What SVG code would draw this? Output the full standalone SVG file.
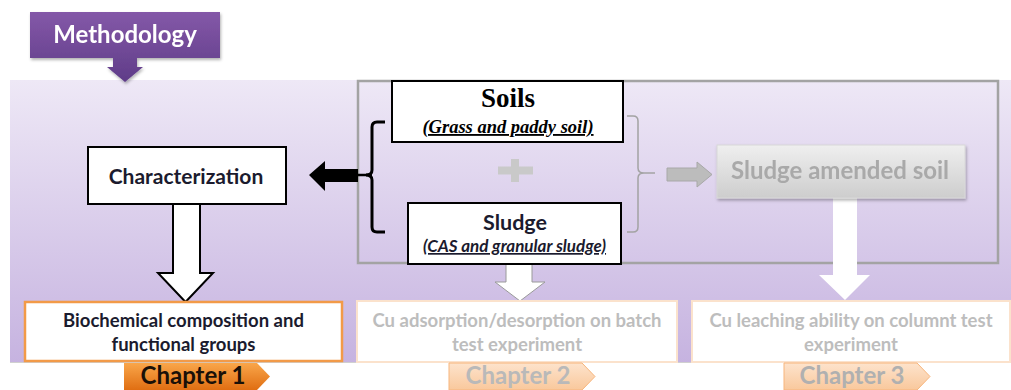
<svg xmlns="http://www.w3.org/2000/svg" width="1011" height="390" viewBox="0 0 1011 390">
<defs>
<linearGradient id="bg" x1="0" y1="0" x2="0" y2="1"><stop offset="0" stop-color="#eee8f6"/><stop offset="1" stop-color="#c6b3e0"/></linearGradient>
<linearGradient id="purple" x1="0" y1="0" x2="0" y2="1"><stop offset="0" stop-color="#8458a8"/><stop offset="1" stop-color="#5f3c88"/></linearGradient>
<linearGradient id="grey" x1="0" y1="0" x2="0" y2="1"><stop offset="0" stop-color="#efefef"/><stop offset="1" stop-color="#cdcdcd"/></linearGradient>
<linearGradient id="orange" x1="0" y1="0" x2="0" y2="1"><stop offset="0" stop-color="#f9a64a"/><stop offset="1" stop-color="#e06e12"/></linearGradient>
<linearGradient id="paleorange" x1="0" y1="0" x2="0" y2="1"><stop offset="0" stop-color="#fde3cc"/><stop offset="1" stop-color="#f9c89c"/></linearGradient>
<filter id="sh" x="-10%" y="-10%" width="120%" height="130%"><feDropShadow dx="1" dy="2" stdDeviation="1.5" flood-color="#000" flood-opacity="0.3"/></filter>
</defs>
<style>
.cal{font-family:Lato,"Open Sans","Liberation Sans",sans-serif;font-weight:bold}
.ser{font-family:"Liberation Serif",serif;font-weight:bold}
.dark{fill:#1b1b2e}
.faint{fill:#bdbdbd}
.blk{fill:#fff;stroke:#000;stroke-width:2}
</style>
<rect x="10" y="80" width="1001" height="282" fill="url(#bg)"/>
<line x1="10" y1="362.5" x2="1011" y2="362.5" stroke="#d0d0d0" stroke-width="1"/>

<g id="methodology" filter="url(#sh)">
<path d="M30 12 H220 V58 H137 V67 H143 L125 82 L107 67 H113 V58 H30 Z" fill="url(#purple)"/>
<text x="125" y="43" text-anchor="middle" class="cal" font-size="24" fill="#fff">Methodology</text>
</g>

<g id="group-box">
<rect x="358" y="81" width="640" height="182" fill="none" stroke="#a3a3a3" stroke-width="2.5"/>
</g>

<g id="connectors">
<path d="M309 175 L325 161 V169 H358 V182 H325 V191 Z" fill="#000"/>
<line x1="358" y1="175" x2="372" y2="175" stroke="#000" stroke-width="2.5"/>
<path d="M385 122 H377 Q372 122 372 127 V170 Q372 175 366 175 Q372 175 372 180 V227 Q372 232 377 232 H385" fill="none" stroke="#000" stroke-width="3"/>
<path d="M627 116 H633 Q638 116 638 121 V168 Q638 173 644 173 Q638 173 638 178 V227 Q638 232 633 232 H627" fill="none" stroke="#a3a3a3" stroke-width="1.5"/>
<line x1="644" y1="173" x2="655" y2="173" stroke="#a3a3a3" stroke-width="1.5"/>
<path d="M667 168 H697 V162 L712 174.5 L697 187 V181 H667 Z" fill="#bcbcbc" stroke="#a8a8a8" stroke-width="1"/>
<path d="M511 159 H519 V166.5 H533 V174.5 H519 V182 H511 V174.5 H498 V166.5 H511 Z" fill="#c9c9c9"/>
<path d="M173 204 H200 V273 H213 L185.5 302 L158 273 H173 Z" class="blk"/>
<path d="M506 264 H532 V282 H545 L520 301 L495 282 H506 Z" fill="#fff" stroke="#9a9a9a" stroke-width="1"/>
<path d="M833 198 H857 V275 H870 L845 300 L819 275 H833 Z" fill="#fff"/>
</g>

<g id="soils">
<rect x="392" y="81" width="231" height="61" class="blk"/>
<text x="508" y="107" text-anchor="middle" class="ser" font-size="27" fill="#000">Soils</text>
<text x="508" y="133" text-anchor="middle" class="ser" font-size="18.5" font-style="italic" text-decoration="underline" fill="#000">(Grass and paddy soil)</text>
</g>

<g id="sludge">
<rect x="408" y="203" width="213" height="61" class="blk"/>
<text x="515" y="230" text-anchor="middle" class="cal dark" font-size="21.5">Sludge</text>
<text x="514.5" y="252" text-anchor="middle" class="cal dark" font-size="17" font-style="italic" text-decoration="underline">(CAS and granular sludge)</text>
</g>

<g id="amended" filter="url(#sh)">
<rect x="717" y="145" width="248" height="53" fill="url(#grey)" stroke="#d8d8d8" stroke-width="1"/>
<text x="840" y="179" text-anchor="middle" class="cal" font-size="24" fill="#a9a9a9">Sludge amended soil</text>
</g>

<g id="characterization">
<rect x="88" y="147" width="198" height="57" class="blk"/>
<text x="186" y="184" text-anchor="middle" class="cal dark" font-size="21">Characterization</text>
</g>

<g id="biochemical">
<rect x="25" y="302" width="317" height="59" fill="#fff" stroke="#f29a48" stroke-width="2.5"/>
<text x="183.5" y="327" text-anchor="middle" class="cal dark" font-size="18.5">Biochemical composition and</text>
<text x="183.5" y="351" text-anchor="middle" class="cal dark" font-size="18.5">functional groups</text>
</g>

<g id="batch">
<rect x="357" y="301" width="320" height="61" fill="#fff" stroke="#fbe2cc" stroke-width="2"/>
<text x="517" y="327" text-anchor="middle" class="cal faint" font-size="18.5">Cu adsorption/desorption on batch</text>
<text x="517" y="351" text-anchor="middle" class="cal faint" font-size="18.5">test experiment</text>
</g>

<g id="column">
<rect x="692" y="301" width="318" height="61" fill="#fff" stroke="#fbe2cc" stroke-width="2"/>
<text x="851" y="327" text-anchor="middle" class="cal faint" font-size="18.5">Cu leaching ability on columnt test</text>
<text x="851" y="351" text-anchor="middle" class="cal faint" font-size="18.5">experiment</text>
</g>

<g id="chapter1">
<path d="M124 363 H257 L270 376.5 L257 390 H124 Z" fill="url(#orange)"/>
<text x="193" y="384" text-anchor="middle" class="cal" font-size="24" fill="#1a1008">Chapter 1</text>
</g>
<g id="chapter2">
<path d="M449 363 H582 L595 376.5 L582 390 H449 Z" fill="url(#paleorange)" stroke="#f7b57c" stroke-width="1"/>
<text x="518" y="384" text-anchor="middle" class="cal" font-size="24" fill="#b9b9b9">Chapter 2</text>
</g>
<g id="chapter3">
<path d="M784 363 H917 L930 376.5 L917 390 H784 Z" fill="url(#paleorange)" stroke="#f7b57c" stroke-width="1"/>
<text x="852" y="384" text-anchor="middle" class="cal" font-size="24" fill="#b0b0b0">Chapter 3</text>
</g>
</svg>
